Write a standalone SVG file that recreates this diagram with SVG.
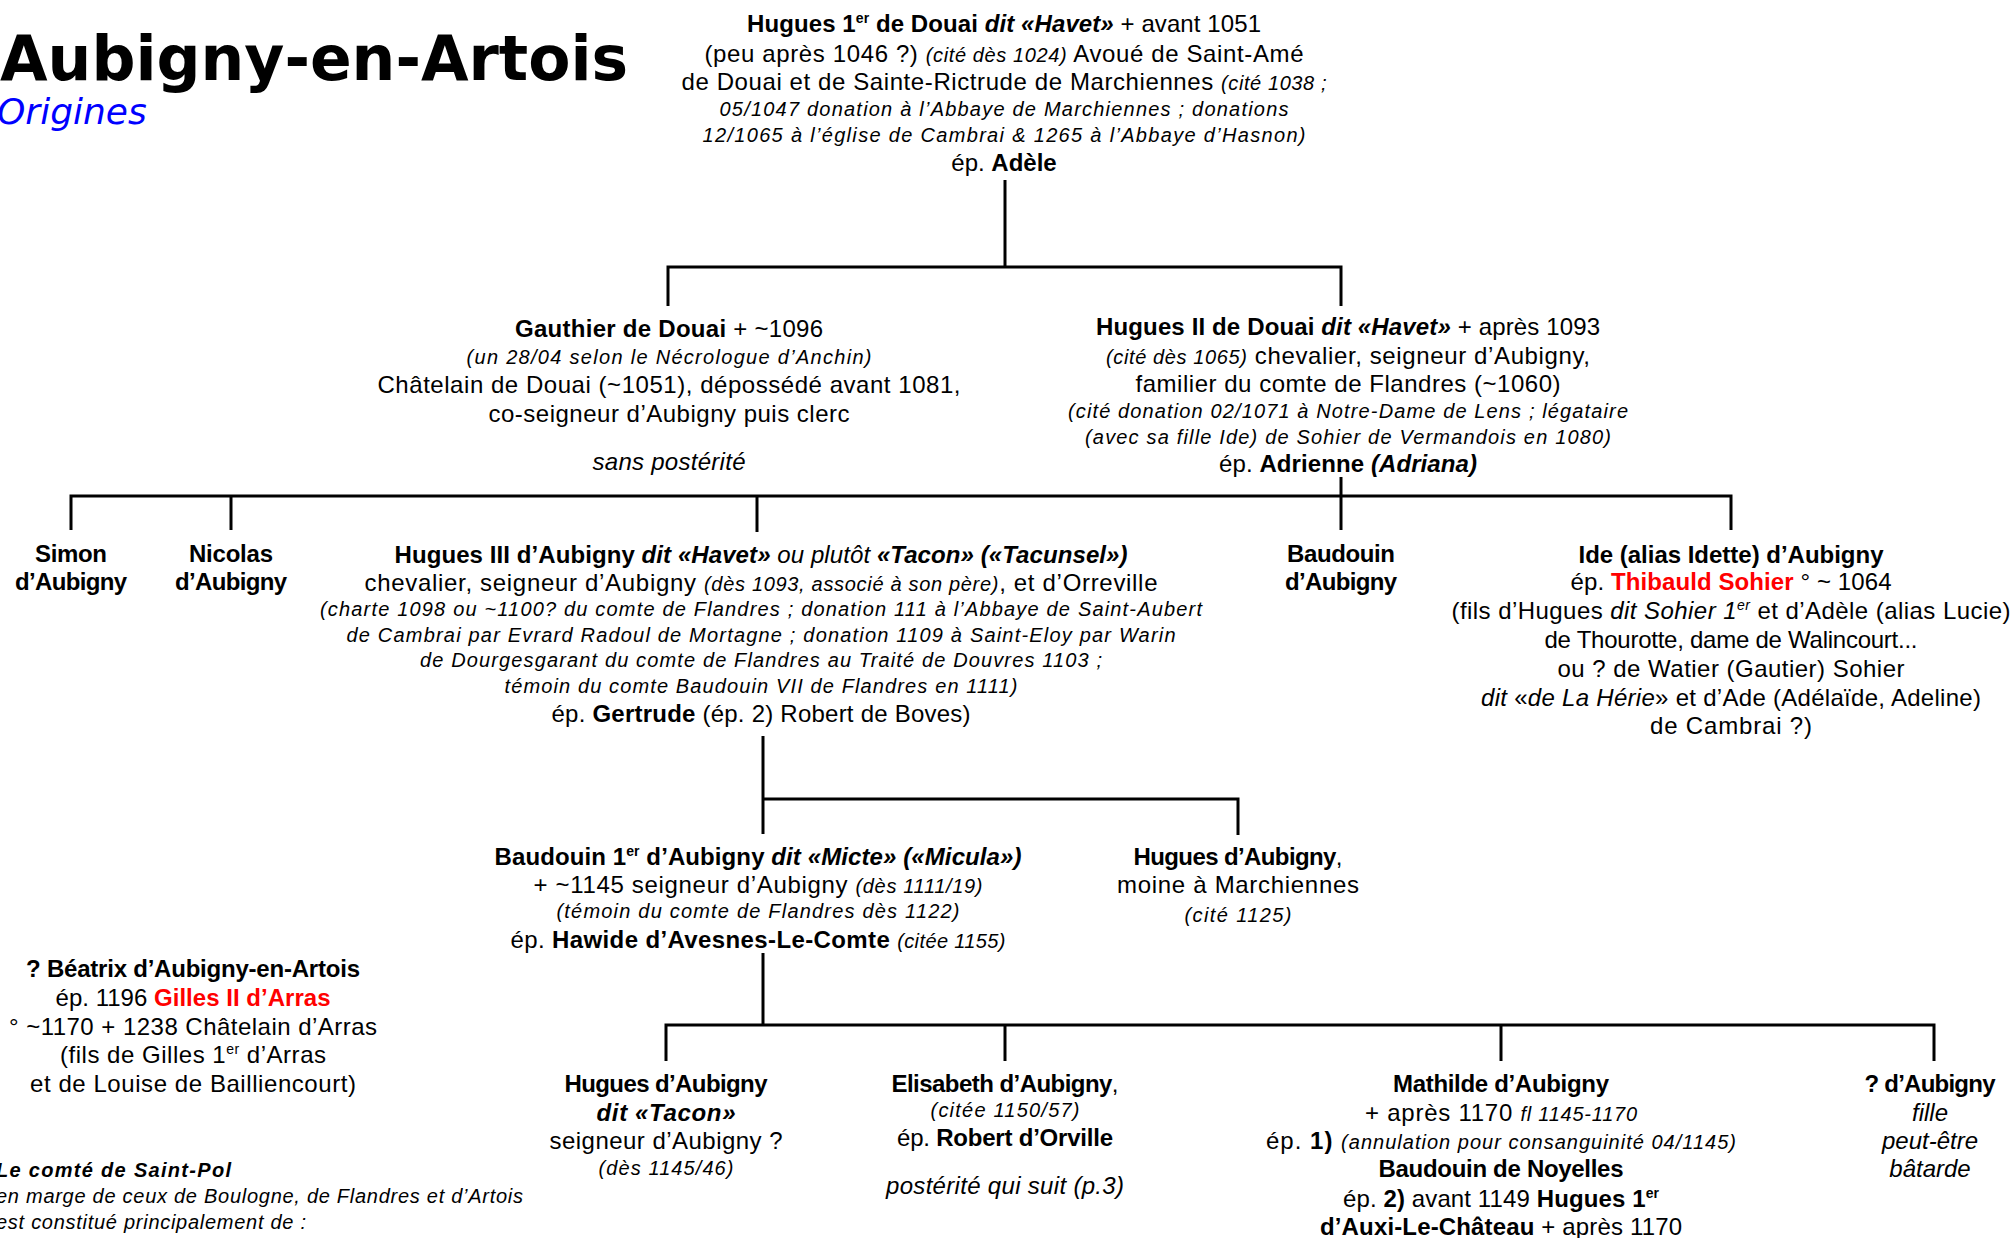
<svg xmlns="http://www.w3.org/2000/svg" width="2015" height="1238" viewBox="0 0 2015 1238">
<style>
text{font-family:"Liberation Sans",Arial,sans-serif;font-size:24px;fill:#000;text-anchor:middle}
.n{font-size:20px;font-style:italic}
.i{font-style:italic}
.b{font-weight:bold}
.bi{font-weight:bold;font-style:italic}
.r{fill:#FF0000}
.s{font-size:14px}
.l{text-anchor:start}
.title{font-family:"DejaVu Sans",Verdana,sans-serif;font-weight:bold;font-size:61.5px;text-anchor:start}
.sub{font-family:"DejaVu Sans",Verdana,sans-serif;font-style:italic;font-size:36px;fill:#0000FF;text-anchor:start}
.c{fill:none;stroke:#000;stroke-width:3}
</style>
<rect width="2015" height="1238" fill="#fff"/>
<g id="titre">
<text class="title" x="0" y="80">Aubigny-en-Artois</text>
<text class="sub" x="-3" y="124">Origines</text>
</g>
<g id="connecteurs" class="c">
<path d="M1005 180V267"/>
<path d="M668 306V267H1341V306"/>
<path d="M1341 477V530"/>
<path d="M71 530V496H1731V530"/>
<path d="M231 496V530"/>
<path d="M757 496V532"/>
<path d="M763 736V834"/>
<path d="M763 799H1238V835"/>
<path d="M763 953V1025"/>
<path d="M666 1061V1025H1934V1061"/>
<path d="M1005 1025V1061"/>
<path d="M1501 1025V1061"/>
</g>
<g id="noeuds" transform="translate(0,2)">
<g id="hugues1">
<text x="1004" y="30" textLength="514"><tspan class="b">Hugues 1</tspan><tspan class="b s" dy="-9">er</tspan><tspan class="b" dy="9"> de Douai </tspan><tspan class="bi">dit «Havet»</tspan> + avant 1051</text>
<text x="1004" y="60" textLength="599">(peu après 1046 ?) <tspan class="n">(cité dès 1024)</tspan> Avoué de Saint-Amé</text>
<text x="1004" y="88" textLength="645">de Douai et de Sainte-Rictrude de Marchiennes <tspan class="n">(cité 1038 ;</tspan></text>
<text class="n" x="1004" y="114" textLength="569">05/1047 donation à l’Abbaye de Marchiennes ; donations</text>
<text class="n" x="1004" y="140" textLength="603">12/1065 à l’église de Cambrai &amp; 1265 à l’Abbaye d’Hasnon)</text>
<text x="1004" y="169">ép. <tspan class="b">Adèle</tspan></text>
</g>
<g id="gauthier">
<text x="669" y="335" textLength="308"><tspan class="b">Gauthier de Douai</tspan>  + ~1096</text>
<text class="n" x="669" y="362" textLength="405">(un 28/04 selon le Nécrologue d’Anchin)</text>
<text x="669" y="391" textLength="583">Châtelain de Douai (~1051), dépossédé avant 1081,</text>
<text x="669" y="420" textLength="361">co-seigneur d’Aubigny puis clerc</text>
<text class="i" x="669" y="468" textLength="153">sans postérité</text>
</g>
<g id="hugues2">
<text x="1348" y="333" textLength="504"><tspan class="b">Hugues II de Douai </tspan><tspan class="bi">dit «Havet»</tspan> + après 1093</text>
<text x="1348" y="362" textLength="484"><tspan class="n">(cité dès 1065)</tspan> chevalier, seigneur d’Aubigny,</text>
<text x="1348" y="390" textLength="425">familier du comte de Flandres (~1060)</text>
<text class="n" x="1348" y="416" textLength="560">(cité donation 02/1071 à Notre-Dame de Lens ; légataire</text>
<text class="n" x="1348" y="442" textLength="526">(avec sa fille Ide) de Sohier de Vermandois en 1080)</text>
<text x="1348" y="470" textLength="258">ép. <tspan class="b">Adrienne </tspan><tspan class="bi">(Adriana)</tspan></text>
</g>
<g id="simon">
<text class="b" x="71" y="560" textLength="72">Simon</text>
<text class="b" x="71" y="588" textLength="112">d’Aubigny</text>
</g>
<g id="nicolas">
<text class="b" x="231" y="560" textLength="84">Nicolas</text>
<text class="b" x="231" y="588" textLength="112">d’Aubigny</text>
</g>
<g id="hugues3">
<text x="761" y="561" textLength="733"><tspan class="b">Hugues III d’Aubigny </tspan><tspan class="bi">dit «Havet»</tspan><tspan class="i"> ou plutôt </tspan><tspan class="bi">«Tacon» («Tacunsel»)</tspan></text>
<text x="761" y="589" textLength="793">chevalier, seigneur d’Aubigny <tspan class="n">(dès 1093, associé à son père)</tspan>, et d’Orreville</text>
<text class="n" x="761" y="614" textLength="882">(charte 1098 ou ~1100? du comte de Flandres ; donation 111 à l’Abbaye de Saint-Aubert</text>
<text class="n" x="761" y="640" textLength="829">de Cambrai par Evrard Radoul de Mortagne ; donation 1109 à Saint-Eloy par Warin</text>
<text class="n" x="761" y="665" textLength="682">de Dourgesgarant du comte de Flandres au Traité de Douvres 1103 ;</text>
<text class="n" x="761" y="691" textLength="513">témoin du comte Baudouin VII de Flandres en 1111)</text>
<text x="761" y="720" textLength="419">ép. <tspan class="b">Gertrude</tspan> (ép. 2) Robert de Boves)</text>
</g>
<g id="baudouin">
<text class="b" x="1341" y="560" textLength="108">Baudouin</text>
<text class="b" x="1341" y="588" textLength="112">d’Aubigny</text>
</g>
<g id="ide">
<text class="b" x="1731" y="561" textLength="305">Ide (alias Idette) d’Aubigny</text>
<text x="1731" y="588" textLength="321">ép. <tspan class="b r">Thibauld Sohier</tspan> ° ~ 1064</text>
<text x="1731" y="617" textLength="559">(fils d’Hugues <tspan class="i">dit Sohier 1</tspan><tspan class="i s" dy="-9">er</tspan><tspan dy="9"> et d’Adèle (alias Lucie)</tspan></text>
<text x="1731" y="646" textLength="373">de Thourotte, dame de Walincourt...</text>
<text x="1731" y="675" textLength="347">ou ? de Watier (Gautier) Sohier</text>
<text x="1731" y="704" textLength="500"><tspan class="i">dit</tspan> «<tspan class="i">de La Hérie</tspan>» et d’Ade (Adélaïde, Adeline)</text>
<text x="1731" y="732" textLength="162">de Cambrai ?)</text>
</g>
<g id="baudouin1">
<text x="758" y="863" textLength="527"><tspan class="b">Baudouin 1</tspan><tspan class="b s" dy="-9">er</tspan><tspan class="b" dy="9"> d’Aubigny </tspan><tspan class="bi">dit «Micte»  («Micula»)</tspan></text>
<text x="758" y="891" textLength="449">+ ~1145 seigneur d’Aubigny <tspan class="n">(dès 1111/19)</tspan></text>
<text class="n" x="758" y="916" textLength="403">(témoin du comte de Flandres dès 1122)</text>
<text x="758" y="946" textLength="495">ép. <tspan class="b">Hawide d’Avesnes-Le-Comte</tspan> <tspan class="n">(citée 1155)</tspan></text>
</g>
<g id="hugues-moine">
<text x="1238" y="863" textLength="209"><tspan class="b">Hugues d’Aubigny</tspan>,</text>
<text x="1238" y="891" textLength="242">moine à Marchiennes</text>
<text class="n" x="1238" y="920" textLength="107">(cité 1125)</text>
</g>
<g id="beatrix">
<text class="b" x="193" y="975" textLength="334">? Béatrix d’Aubigny-en-Artois</text>
<text x="193" y="1004" textLength="275">ép. 1196 <tspan class="b r">Gilles II d’Arras</tspan></text>
<text x="193" y="1033" textLength="368">° ~1170 + 1238 Châtelain d’Arras</text>
<text x="193" y="1061" textLength="266">(fils de Gilles 1<tspan class="s" dy="-9">er</tspan><tspan dy="9"> d’Arras</tspan></text>
<text x="193" y="1090" textLength="326">et de Louise de Bailliencourt)</text>
</g>
<g id="saint-pol">
<text class="l bi" x="-4" y="1175" style="font-size:20px" textLength="235">Le comté de Saint-Pol</text>
<text class="l n" x="-4" y="1201" textLength="527">en marge de ceux de Boulogne, de Flandres et d’Artois</text>
<text class="l n" x="-4" y="1227" textLength="310">est constitué principalement de :</text>
</g>
<g id="hugues-tacon">
<text class="b" x="666" y="1090" textLength="203">Hugues d’Aubigny</text>
<text class="bi" x="666" y="1119" textLength="139">dit «Tacon»</text>
<text x="666" y="1147" textLength="233">seigneur d’Aubigny ?</text>
<text class="n" x="666" y="1173" textLength="135">(dès 1145/46)</text>
</g>
<g id="elisabeth">
<text x="1005" y="1090" textLength="227"><tspan class="b">Elisabeth d’Aubigny</tspan>,</text>
<text class="n" x="1005" y="1115" textLength="149">(citée 1150/57)</text>
<text x="1005" y="1144" textLength="216">ép. <tspan class="b">Robert d’Orville</tspan></text>
<text class="i" x="1005" y="1192" textLength="238">postérité qui suit (p.3)</text>
</g>
<g id="mathilde">
<text class="b" x="1501" y="1090" textLength="216">Mathilde d’Aubigny</text>
<text x="1501" y="1119" textLength="272">+ après 1170 <tspan class="n">fl 1145-1170</tspan></text>
<text x="1501" y="1147" textLength="470">ép. <tspan class="b">1)</tspan> <tspan class="n">(annulation pour consanguinité 04/1145)</tspan></text>
<text class="b" x="1501" y="1175" textLength="245">Baudouin de Noyelles</text>
<text x="1501" y="1205" textLength="316">ép. <tspan class="b">2)</tspan> avant 1149 <tspan class="b">Hugues 1</tspan><tspan class="b s" dy="-9">er</tspan></text>
<text x="1501" y="1233" textLength="362"><tspan class="b">d’Auxi-Le-Château</tspan> + après 1170</text>
</g>
<g id="fille">
<text class="b" x="1930" y="1090" textLength="131">? d’Aubigny</text>
<text class="i" x="1930" y="1119">fille</text>
<text class="i" x="1930" y="1147">peut-être</text>
<text class="i" x="1930" y="1175">bâtarde</text>
</g>
</g>
</svg>
